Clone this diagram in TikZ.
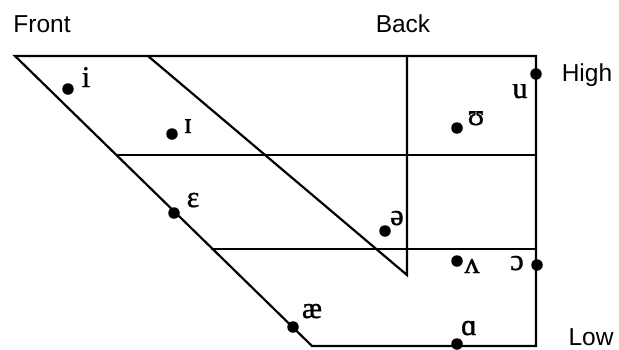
\documentclass[tikz,border=0pt]{standalone}
\usepackage{fontspec}
\setmainfont{Liberation Serif}
\newfontfamily\lblfont{Liberation Sans}
\newfontfamily\ipafont[FakeBold=1.2]{Liberation Serif}
\begin{document}
\begin{tikzpicture}[x=1pt,y=-1pt,
  frame/.style={line width=2.2pt, line join=miter},
  vdot/.style={circle, fill=black, inner sep=0pt, minimum size=11.5pt},
  ipa/.style={font=\ipafont\fontsize{30}{30}\selectfont, inner sep=0pt},
  axis/.style={font=\lblfont\fontsize{24.5}{25}\selectfont, inner sep=0pt}]
\useasboundingbox (0,0) rectangle (619,349);
% frame vertices
\coordinate (TL) at (15,56);
\coordinate (TR) at (536,56);
\coordinate (BR) at (536,346);
\coordinate (BL) at (312,346);
\coordinate (M1L) at (116,155);
\coordinate (M1R) at (536,155);
\coordinate (M2L) at (211,249);
\coordinate (M2R) at (536,249);
\coordinate (DT) at (148,56);
\coordinate (DB) at (407,275);
\coordinate (VT) at (407,56);
\draw[frame] (TL) -- (TR) -- (BR) -- (BL) -- cycle;
\draw[frame] (M1L) -- (M1R);
\draw[frame] (M2L) -- (M2R);
\draw[frame] (DT) -- (DB) -- (VT);
% vowel dots
\node[vdot] (i) at (68,89) {};
\node[vdot] (I) at (172,134) {};
\node[vdot] (U) at (457,128) {};
\node[vdot] (u) at (536,74) {};
\node[vdot] (E) at (174,213) {};
\node[vdot] (schwa) at (385,231) {};
\node[vdot] (V) at (457,261) {};
\node[vdot] (O) at (537,265) {};
\node[vdot] (ae) at (293,327) {};
\node[vdot] (A) at (457,344) {};
% vowel labels
\node[ipa, anchor=base] (li) at (86,87) {i};
\node[ipa, anchor=base] (lI) at (188,133) {ɪ};
\node[ipa, anchor=base] (lU) at (476,125) {ʊ};
\node[ipa, anchor=base] (lu) at (520,98) {u};
\node[ipa, anchor=base] (lE) at (193,207) {ɛ};
\node[ipa, anchor=base] (lschwa) at (397,225) {ə};
\node[ipa, anchor=base] (lV) at (472,273) {ʌ};
\node[ipa, anchor=base] (lO) at (517,270) {ɔ};
\node[ipa, anchor=base] (lae) at (312,318) {æ};
\node[ipa, anchor=base] (lA) at (469,335) {ɑ};
% axis labels
\node[axis] (front) at (42,24) {Front};
\node[axis] (back) at (403,24) {Back};
\node[axis] (high) at (587,75) {High};
\node[axis] (low) at (591,337) {Low};
\end{tikzpicture}
\end{document}
